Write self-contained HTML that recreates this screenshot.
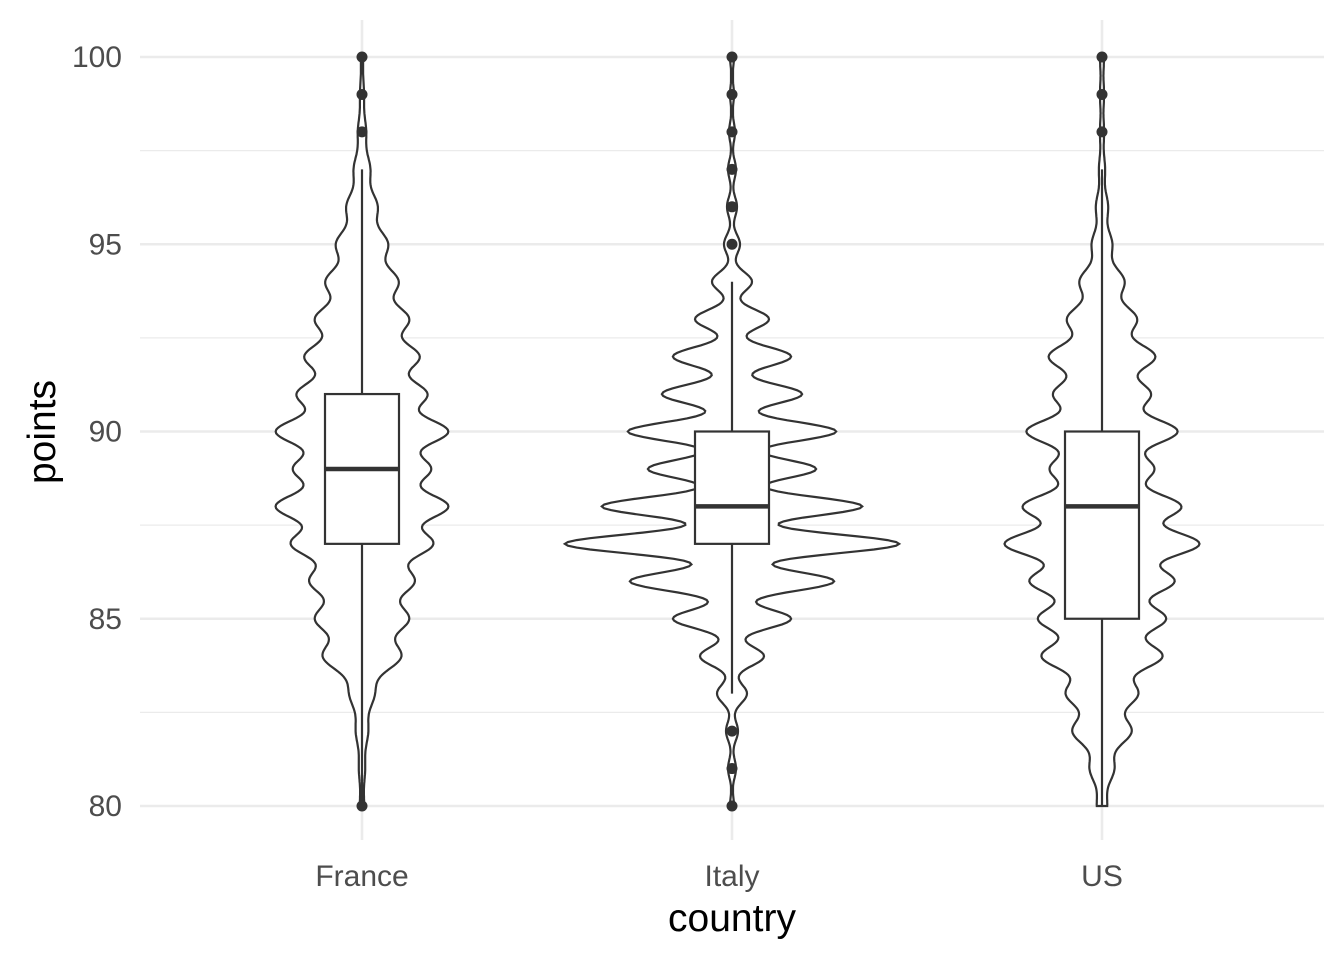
<!DOCTYPE html>
<html><head><meta charset="utf-8"><style>
html,body{margin:0;padding:0;background:#fff}
svg{display:block;font-family:"Liberation Sans",sans-serif}
</style></head><body>
<svg id="chart" width="1344" height="960"></svg>
<script>
const categories = ["France","Italy","US"];
const densityPoints = [80,81,82,83,84,85,86,87,88,89,90,91,92,93,94,95,96,97,98,99,100];
const franceWidths = [2,3,6,12,38,45,50,68,83,65,83,62,55,45,35,25,15,8,4,2,1];
const italyWidths  = [2,4,6,15,32,59,102,167,130,84,104,70,59,37,20,8,5,4,3,2,2];
const usWidths     = [5,12,29,35,59,62,70,95,77,50,74,47,52,34,22,10,6,3,2,2,2];
const bandwidths = [0.37,0.26,0.35];
const boxLower = [87,87,85];
const boxMedian = [89,88,88];
const boxUpper = [91,90,90];
const whiskerLow = [80,83,80];
const whiskerHigh = [97,94,97];
const franceOutliers = [80,98,99,100];
const italyOutliers = [80,81,82,95,96,97,98,99,100];
const usOutliers = [98,99,100];
const yTicks = [80,85,90,95,100];
const yMinor = [82.5,87.5,92.5,97.5];

const widthsAll=[franceWidths,italyWidths,usWidths];
const outAll=[franceOutliers,italyOutliers,usOutliers];
const NS="http://www.w3.org/2000/svg";
const svg=document.getElementById('chart');
const y=v=>806-(v-80)*(806-57)/20;
const x=i=>362+i*370;
function mk(t,a,p){const e=document.createElementNS(NS,t);for(const k in a)e.setAttribute(k,a[k]);(p||svg).appendChild(e);return e;}

const grid=mk('g',{});


yMinor.forEach(v=>{mk('line',{x1:140,x2:1324,y1:y(v),y2:y(v),stroke:'#ebebeb','stroke-width':1.3},grid);});
yTicks.forEach(v=>{mk('line',{x1:140,x2:1324,y1:y(v),y2:y(v),stroke:'#ebebeb','stroke-width':2.6},grid);});
categories.forEach((c,i)=>{mk('line',{x1:x(i),x2:x(i),y1:20,y2:840,stroke:'#ebebeb','stroke-width':2.6},grid);});

yTicks.forEach(v=>{
  const t=mk('text',{x:122,y:y(v)+10,'text-anchor':'end','font-size':30,fill:'#4d4d4d'});
  t.textContent=v;
  
  
});
categories.forEach((c,i)=>{
  const t=mk('text',{x:x(i),y:886,'text-anchor':'middle','font-size':30,fill:'#4d4d4d'});
  t.textContent=c;
  
  
});
const xt=mk('text',{x:732,y:931,'text-anchor':'middle','font-size':39,fill:'#000'});
xt.textContent='country';


const yt=mk('text',{x:0,y:0,'text-anchor':'middle','font-size':39,fill:'#000',transform:'translate(55,432) rotate(-90)'});
yt.textContent='points';



categories.forEach((c,i)=>{
  const g=mk('g',{});
  
  
  const w=widthsAll[i], sd=bandwidths[i];
  const pts=[];
  for(let v=80;v<=100.0001;v+=0.05){
    let d=0;densityPoints.forEach((p,k)=>{d+=w[k]*Math.exp(-((v-p)**2)/(2*sd*sd));});
    pts.push([v,Math.max(d,1)]);
  }
  let path='M'+pts.map(p=>(x(i)+p[1]).toFixed(1)+','+y(p[0]).toFixed(1)).join('L');
  path+='L'+pts.slice().reverse().map(p=>(x(i)-p[1]).toFixed(1)+','+y(p[0]).toFixed(1)).join('L')+'Z';
  mk('path',{d:path,fill:'#fff',stroke:'#333','stroke-width':2.2},g);
  const b=mk('g',{});
  
  
  mk('line',{x1:x(i),x2:x(i),y1:y(whiskerHigh[i]),y2:y(boxUpper[i]),stroke:'#333','stroke-width':2.2},b);
  mk('line',{x1:x(i),x2:x(i),y1:y(boxLower[i]),y2:y(whiskerLow[i]),stroke:'#333','stroke-width':2.2},b);
  mk('rect',{x:x(i)-37,y:y(boxUpper[i]),width:74,height:y(boxLower[i])-y(boxUpper[i]),fill:'#fff',stroke:'#333','stroke-width':2.2},b);
  mk('line',{x1:x(i)-37,x2:x(i)+37,y1:y(boxMedian[i]),y2:y(boxMedian[i]),stroke:'#333','stroke-width':4.5},b);
  outAll[i].forEach(v=>{
    const o=mk('circle',{cx:x(i),cy:y(v),r:5.5,fill:'#333'},b);
    
    
  });
});
</script>
</body></html>
